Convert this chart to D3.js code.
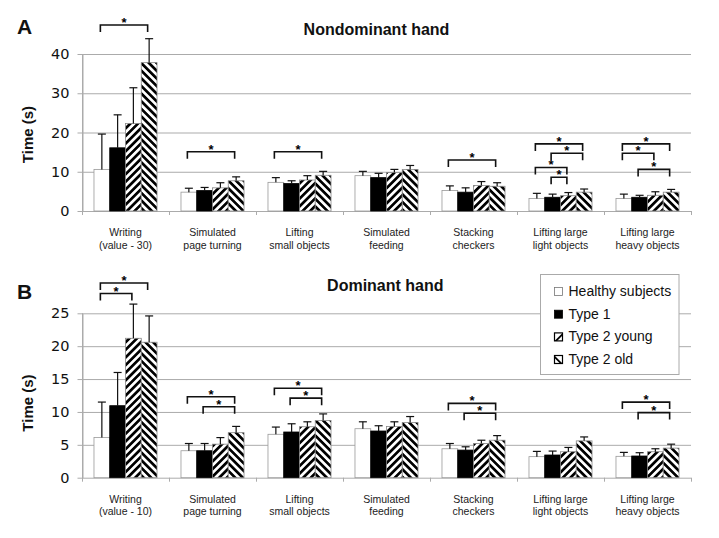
<!DOCTYPE html>
<html>
<head>
<meta charset="utf-8">
<script src="https://cdn.jsdelivr.net/npm/d3@7"></script>
<style>
  html, body { margin: 0; padding: 0; background: #fff; }
  svg { display: block; }
</style>
</head>
<body>
<svg id="chart" width="719" height="538"></svg>
<script>
// ---------- DATA ----------
const categories = ["Writing", "Simulated page turning", "Lifting small objects", "Simulated feeding",
                    "Stacking checkers", "Lifting large light objects", "Lifting large heavy objects"];
const labelsNondom = [["Writing", "(value - 30)"], ["Simulated", "page turning"], ["Lifting", "small objects"],
                      ["Simulated", "feeding"], ["Stacking", "checkers"], ["Lifting large", "light objects"],
                      ["Lifting large", "heavy objects"]];
const labelsDom = [["Writing", "(value - 10)"], ["Simulated", "page turning"], ["Lifting", "small objects"],
                   ["Simulated", "feeding"], ["Stacking", "checkers"], ["Lifting large", "light objects"],
                   ["Lifting large", "heavy objects"]];
const seriesNames = ["Healthy subjects", "Type 1", "Type 2 young", "Type 2 old"];

// Nondominant hand (means and SD)
const nondomHealthy   = [10.6, 4.8, 7.3, 9.0, 5.2, 3.2, 3.2];
const nondomType1     = [16.1, 5.2, 7.0, 8.5, 4.8, 3.5, 3.5];
const nondomT2Young   = [22.3, 5.9, 7.9, 9.8, 6.5, 3.9, 4.0];
const nondomT2Old     = [37.8, 7.7, 9.1, 10.6, 6.3, 4.8, 4.8];
const nondomHealthySD = [9.0, 1.0, 1.2, 1.1, 1.2, 1.3, 1.1];
const nondomType1SD   = [8.4, 0.8, 0.7, 1.1, 1.1, 0.8, 0.5];
const nondomT2YoungSD = [9.1, 1.3, 1.1, 0.8, 1.0, 0.8, 0.9];
const nondomT2OldSD   = [6.1, 1.0, 1.0, 1.0, 0.9, 0.8, 0.7];

// Dominant hand (means and SD)
const domHealthy   = [6.1, 4.1, 6.6, 7.45, 4.4, 3.2, 3.25];
const domType1     = [10.95, 4.1, 6.95, 7.1, 4.2, 3.45, 3.3];
const domT2Young   = [21.2, 5.1, 7.75, 7.8, 5.2, 3.95, 3.95];
const domT2Old     = [20.6, 6.85, 8.7, 8.4, 5.7, 5.6, 4.5];
const domHealthySD = [5.4, 1.1, 1.1, 1.05, 0.8, 0.8, 0.6];
const domType1SD   = [5.05, 1.1, 1.25, 0.8, 0.5, 0.6, 0.5];
const domT2YoungSD = [5.2, 1.0, 0.75, 0.7, 0.5, 0.65, 0.45];
const domT2OldSD   = [4.0, 0.95, 1.0, 0.9, 0.7, 0.6, 0.6];

// Y ticks
const ticksNondom = [0, 10, 20, 30, 40];
const ticksDom = [0, 5, 10, 15, 20, 25];

// Significance brackets: [category index, from series, to series, level (s)]
const sigNondom = [[0,0,3,47.4],[1,0,3,15.1],[2,0,3,15.1],[4,0,3,13.0],
                   [5,0,3,17.1],[5,1,3,14.7],[5,0,2,11.1],[5,1,2,8.6],
                   [6,0,3,17.1],[6,0,2,14.7],[6,1,3,10.6]];
const sigDom = [[0,0,3,29.6],[0,0,2,28.0],[1,0,3,12.3],[1,1,3,10.8],[2,0,3,13.6],[2,1,3,12.1],
                [4,0,3,11.3],[4,1,3,9.8],[6,0,3,11.5],[6,1,3,9.9]];

// ---------- DRAW ----------
const svg = d3.select("#chart");
const defs = svg.append("defs");
function stripe(id, angle) {
  const p = defs.append("pattern").attr("id", id).attr("patternUnits", "userSpaceOnUse")
    .attr("width", 5.4).attr("height", 5.4).attr("patternTransform", `rotate(${angle})`);
  p.append("rect").attr("width", 5.4).attr("height", 5.4).attr("fill", "#fff");
  p.append("rect").attr("width", 2.7).attr("height", 5.4).attr("fill", "#000");
}
stripe("hatchYoung", 45);
stripe("hatchOld", -45);

const fills = ["#fff", "#000", "url(#hatchYoung)", "url(#hatchOld)"];
const strokes = ["#999", "#000", "#888", "#888"];
const gridColor = "#ababab";
const left = 82, right = 691;

const x0 = d3.scaleBand().domain(categories).range([left, right]).paddingInner(0).paddingOuter(0);
const x1 = d3.scaleBand().domain(seriesNames).range([0, x0.bandwidth()]).paddingInner(0).paddingOuter(0.76);

function panel(cfg) {
  const g = svg.append("g");
  const y = d3.scaleLinear().domain(cfg.domain).range([cfg.bottom, cfg.top]);

  // gridlines
  g.selectAll("line.grid").data(cfg.ticks.filter(t => t > 0)).join("line")
    .attr("x1", left).attr("x2", right).attr("y1", d => y(d) + 0.5).attr("y2", d => y(d) + 0.5)
    .attr("stroke", gridColor).attr("stroke-width", 1);

  // y axis
  const ya = g.append("g").attr("transform", `translate(${left + 0.5},0)`)
    .call(d3.axisLeft(y).tickValues(cfg.ticks).tickSize(5).tickSizeOuter(0).tickPadding(8));
  ya.select(".domain").attr("stroke", gridColor);
  ya.selectAll(".tick line").attr("stroke", gridColor);
  ya.selectAll(".tick text").attr("font-family", "DejaVu Sans, Verdana, sans-serif")
    .attr("font-size", 14.5).attr("fill", "#111");
  g.append("line").attr("x1", left + 0.5).attr("x2", left + 0.5).attr("y1", cfg.top).attr("y2", cfg.bottom + 4)
    .attr("stroke", gridColor);

  // x axis line and boundary ticks
  g.append("line").attr("x1", left).attr("x2", right).attr("y1", cfg.bottom + 0.5).attr("y2", cfg.bottom + 0.5)
    .attr("stroke", gridColor);
  const bounds = categories.map(c => x0(c)).concat([x0(categories[categories.length - 1]) + x0.bandwidth()]);
  g.selectAll("line.bt").data(bounds.slice(1)).join("line")
    .attr("x1", d => Math.round(d) + 0.5).attr("x2", d => Math.round(d) + 0.5)
    .attr("y1", cfg.bottom).attr("y2", cfg.bottom + 4).attr("stroke", gridColor);

  // bars
  const rows = [];
  categories.forEach((c, i) => {
    seriesNames.forEach((s, j) => {
      rows.push({ c, s, j, v: cfg.means[j][i], sd: cfg.sds[j][i] });
    });
  });
  g.selectAll("rect.bar").data(rows).join("rect")
    .attr("x", d => x0(d.c) + x1(d.s)).attr("width", x1.bandwidth())
    .attr("y", d => y(d.v)).attr("height", d => y(0) - y(d.v))
    .attr("fill", d => fills[d.j]).attr("stroke", d => strokes[d.j]).attr("stroke-width", 0.8);

  // error bars
  const eb = g.selectAll("g.err").data(rows).join("g");
  eb.append("line")
    .attr("x1", d => x0(d.c) + x1(d.s) + x1.bandwidth() / 2).attr("x2", d => x0(d.c) + x1(d.s) + x1.bandwidth() / 2)
    .attr("y1", d => y(d.v)).attr("y2", d => y(d.v + d.sd)).attr("stroke", "#111").attr("stroke-width", 1.2);
  eb.append("line")
    .attr("x1", d => x0(d.c) + x1(d.s) + x1.bandwidth() / 2 - 4).attr("x2", d => x0(d.c) + x1(d.s) + x1.bandwidth() / 2 + 4)
    .attr("y1", d => y(d.v + d.sd)).attr("y2", d => y(d.v + d.sd)).attr("stroke", "#111").attr("stroke-width", 1.2);

  // category labels
  const lab = g.selectAll("text.cat").data(categories).join("text")
    .attr("x", d => x0(d) + x0.bandwidth() / 2).attr("y", cfg.bottom + 25)
    .attr("text-anchor", "middle").attr("font-family", "Liberation Sans, Arial, sans-serif")
    .attr("font-size", 10.5).attr("fill", "#222");
  lab.each(function(d, i) {
    d3.select(this).selectAll("tspan").data(cfg.labels[i]).join("tspan")
      .attr("x", x0(d) + x0.bandwidth() / 2).attr("dy", (t, k) => k === 0 ? 0 : 12.5).text(t => t);
  });

  // significance brackets
  const cx = (ci, sj) => x0(categories[ci]) + x1(seriesNames[sj]) + x1.bandwidth() / 2 - 1.5;
  const sg = g.selectAll("g.sig").data(cfg.sig).join("g");
  sg.append("path")
    .attr("d", d => {
      const xa = cx(d[0], d[1]), xb = cx(d[0], d[2]), yy = y(d[3]);
      return `M${xa},${yy + 7}V${yy}H${xb}V${yy + 7}`;
    })
    .attr("fill", "none").attr("stroke", "#111").attr("stroke-width", 1.6);
  sg.append("text")
    .attr("x", d => (cx(d[0], d[1]) + cx(d[0], d[2])) / 2).attr("y", d => y(d[3]) + 2)
    .attr("text-anchor", "middle").attr("font-family", "Liberation Sans, Arial, sans-serif")
    .attr("font-size", 13).attr("font-weight", "bold").attr("fill", "#000").text("*");

  // titles
  svg.append("text").attr("x", cfg.titleX).attr("y", cfg.titleY).attr("text-anchor", "middle")
    .attr("font-family", "Liberation Sans, Arial, sans-serif").attr("font-weight", "bold").attr("font-size", 16)
    .attr("fill", "#111").text(cfg.title);
  svg.append("text").attr("x", 17).attr("y", cfg.letterY)
    .attr("font-family", "Liberation Sans, Arial, sans-serif").attr("font-weight", "bold").attr("font-size", 21)
    .attr("fill", "#111").text(cfg.letter);
  svg.append("text").attr("transform", `translate(33,${cfg.ylabY}) rotate(-90)`).attr("text-anchor", "middle")
    .attr("font-family", "Liberation Sans, Arial, sans-serif").attr("font-weight", "bold").attr("font-size", 15)
    .attr("fill", "#111").text("Time (s)");
  return g;
}

panel({
  domain: [0, 40], top: 54, bottom: 211, ticks: ticksNondom,
  means: [nondomHealthy, nondomType1, nondomT2Young, nondomT2Old],
  sds: [nondomHealthySD, nondomType1SD, nondomT2YoungSD, nondomT2OldSD],
  labels: labelsNondom, sig: sigNondom,
  title: "Nondominant hand", titleX: 376.5, titleY: 35, letter: "A", letterY: 34, ylabY: 134.5
});
panel({
  domain: [0, 25], top: 313.3, bottom: 477.7, ticks: ticksDom,
  means: [domHealthy, domType1, domT2Young, domT2Old],
  sds: [domHealthySD, domType1SD, domT2YoungSD, domT2OldSD],
  labels: labelsDom, sig: sigDom,
  title: "Dominant hand", titleX: 385.3, titleY: 290.5, letter: "B", letterY: 299, ylabY: 403
});

// legend
const lg = svg.append("g");
lg.append("rect").attr("x", 540.5).attr("y", 274.5).attr("width", 138.5).attr("height", 100)
  .attr("fill", "#fff").attr("stroke", "#aaa");
const legY = [296, 318.7, 341.4, 364];
seriesNames.forEach((s, j) => {
  const bx = 554.5, by = legY[j] - 8.5, sz = 8;
  if (j < 2) {
    lg.append("rect").attr("x", bx).attr("y", by).attr("width", sz).attr("height", sz)
      .attr("fill", j === 0 ? "#fff" : "#000").attr("stroke", j === 0 ? "#777" : "#000").attr("stroke-width", 0.8);
  } else {
    lg.append("rect").attr("x", bx).attr("y", by).attr("width", sz).attr("height", sz)
      .attr("fill", "#fff").attr("stroke", "#000").attr("stroke-width", 1.2);
    const pts = j === 2
      ? [[bx, by + sz], [bx + sz, by], [bx + sz, by + 2.5], [bx + 2.5, by + sz]]
      : [[bx, by], [bx + sz, by + sz], [bx + sz - 2.5, by + sz], [bx, by + 2.5]];
    lg.append("polygon").attr("points", pts.map(p => p.join(",")).join(" ")).attr("fill", "#000");
  }
  lg.append("text").attr("x", 568.5).attr("y", legY[j])
    .attr("font-family", "Liberation Sans, Arial, sans-serif").attr("font-size", 14).attr("fill", "#111").text(s);
});
</script>
</body>
</html>
